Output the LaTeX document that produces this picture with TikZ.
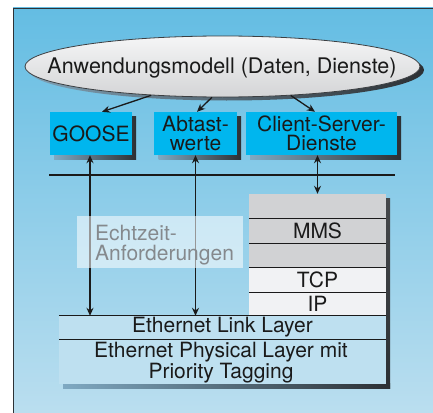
\documentclass[tikz,border=0pt]{standalone}
\usepackage{fontspec}
\setmainfont{TeX Gyre Heros}
\usetikzlibrary{shapes.geometric,arrows.meta,calc}
\definecolor{bgtop}{HTML}{64BDE3}
\definecolor{bgbot}{HTML}{BADEEF}
\definecolor{framecol}{HTML}{2E3236}
\definecolor{cyanbox}{HTML}{00B6EE}
\definecolor{ellfill}{HTML}{E6E7E9}
\definecolor{ellline}{HTML}{3C3F42}
\definecolor{stgray}{HTML}{D1D2D4}
\definecolor{stwhite}{HTML}{F1F2F4}
\definecolor{ethfill}{HTML}{BEE0F0}
\definecolor{txt}{HTML}{1A1A1A}
\definecolor{graytxt}{HTML}{85898D}
\definecolor{shdark}{HTML}{2C3034}
\definecolor{shlight}{HTML}{7FA9C2}
\begin{document}
\begin{tikzpicture}[x=1pt,y=-1pt,
  lbl/.style={font=\fontsize{21}{19}\selectfont, text=txt, align=center, inner sep=0pt},
  svcbox/.style={rectangle, fill=cyanbox, minimum height=43pt, inner sep=0pt,
    font=\fontsize{21}{19}\selectfont, text=txt, align=center},
  stackrow/.style={rectangle, minimum width=137pt, inner sep=0pt,
    font=\fontsize{21}{19}\selectfont, text=txt},
  ethrow/.style={rectangle, fill=ethfill, minimum width=327pt, inner sep=0pt,
    font=\fontsize{21}{19}\selectfont, text=txt, align=center},
  arr/.style={line width=1.3pt, draw=txt, -{Stealth[length=8pt,width=7pt]}},
  dblarr/.style={line width=1.3pt, draw=txt, {Stealth[length=8pt,width=7pt]}-{Stealth[length=8pt,width=7pt]}},
  divline/.style={line width=1pt, draw=txt}]
\useasboundingbox (0,0) rectangle (433,412);
\clip (0,0) rectangle (433,412);
% background frame
\shade[top color=bgtop, bottom color=bgbot] (13,8) rectangle (433,412);
\draw[framecol, line width=1.6pt] (13.5,414) -- (13.5,8.5) -- (433,8.5);
% horizontal bus line
\coordinate (hl) at (49,175);
\coordinate (hr) at (395,175);
\draw[line width=1.4pt, txt] (hl) -- (hr);
% ellipse
\shade[left color=shlight!80!gray, right color=shdark] (226.5,70) ellipse [x radius=197.5pt, y radius=30.5pt];
\node[ellipse, minimum width=395pt, minimum height=61pt, inner sep=0pt,
  draw=ellline, line width=0.8pt, top color=white!60!ellfill, bottom color=ellfill!92!black] (ell) at (222.5,66.5) {};
\node[font=\fontsize{21.5}{20}\selectfont, text=txt, inner sep=0pt] (elltext) at (222,68) {Anwendungsmodell (Daten, Dienste)};
% service boxes shadows
\shade[left color=shlight, right color=shdark] (54,116) rectangle (136,159);
\shade[left color=shlight, right color=shdark] (158.5,116) rectangle (241,159);
\shade[left color=shlight, right color=shdark] (250,116) rectangle (401,159);
% service boxes
\node[svcbox, minimum width=82pt] (goose) at (91,133.5) {GOOSE};
\node[svcbox, minimum width=83pt] (abt) at (195.5,133.5) {Abtast-\\werte};
\node[svcbox, minimum width=151pt] (cs) at (321.5,133.5) {Client-Server-\\Dienste};
% stack shadow
\shade[top color=shdark!70!gray, bottom color=shdark] (385,198) rectangle (390,388);
\shade[left color=shlight, right color=shdark] (63,383) rectangle (390,388.5);
% stack
\node[stackrow, fill=stgray, minimum height=24pt] (s1) at (317.5,206) {};
\node[stackrow, fill=stgray, minimum height=25pt] (s2) at (317.5,230.5) {MMS};
\node[stackrow, fill=stgray, minimum height=24pt] (s3) at (317.5,255) {};
\node[stackrow, fill=stwhite, minimum height=25pt] (s4) at (317.5,279.5) {TCP};
\node[stackrow, fill=stwhite, minimum height=24pt] (s5) at (317.5,304) {IP};
% ethernet
\node[ethrow, minimum height=23pt] (link) at (222.5,327.5) {Ethernet Link Layer};
\node[ethrow, minimum height=45pt] (phys) at (222.5,361.5) {};
\node[lbl] (phystext) at (221,363) {Ethernet Physical Layer mit\\Priority Tagging};
% divider lines
\draw[divline] (s1.south west) -- (s1.south east);
\draw[divline] (s2.south west) -- (s2.south east);
\draw[divline] (s3.south west) -- (s3.south east);
\draw[divline] (s4.south west) -- (s4.south east);
\draw[line width=0.7pt, txt] (link.north west) -- (link.north east);
\draw[divline] (link.south west) -- (link.south east);
% arrows from ellipse
\draw[arr] (ell.202) -- ($(goose.north)+(11,0)$);
\draw[arr] (ell.251) -- ($(abt.north)+(1.5,0)$);
\draw[arr] (ell.337) -- ($(cs.north)+(-6.5,0)$);
% vertical arrows
\draw[dblarr] ($(goose.south)+(-1,0)$) -- ($(goose.south |- link.north)+(-1,0)$);
\draw[dblarr] (abt.south) -- (abt.south |- link.north);
\draw[dblarr] (s1.north |- cs.south) -- (s1.north);
% Echtzeit box (semi-transparent over the arrows)
\node[rectangle, fill=white, fill opacity=0.55, minimum width=166pt, minimum height=52pt, inner sep=0pt] (echt) at (160,242) {};
\node[anchor=west, font=\fontsize{21}{19.5}\selectfont, text=graytxt, align=left, inner sep=0pt] (echttext) at (95,245) {Echtzeit-\\Anforderungen};
\end{tikzpicture}
\end{document}
